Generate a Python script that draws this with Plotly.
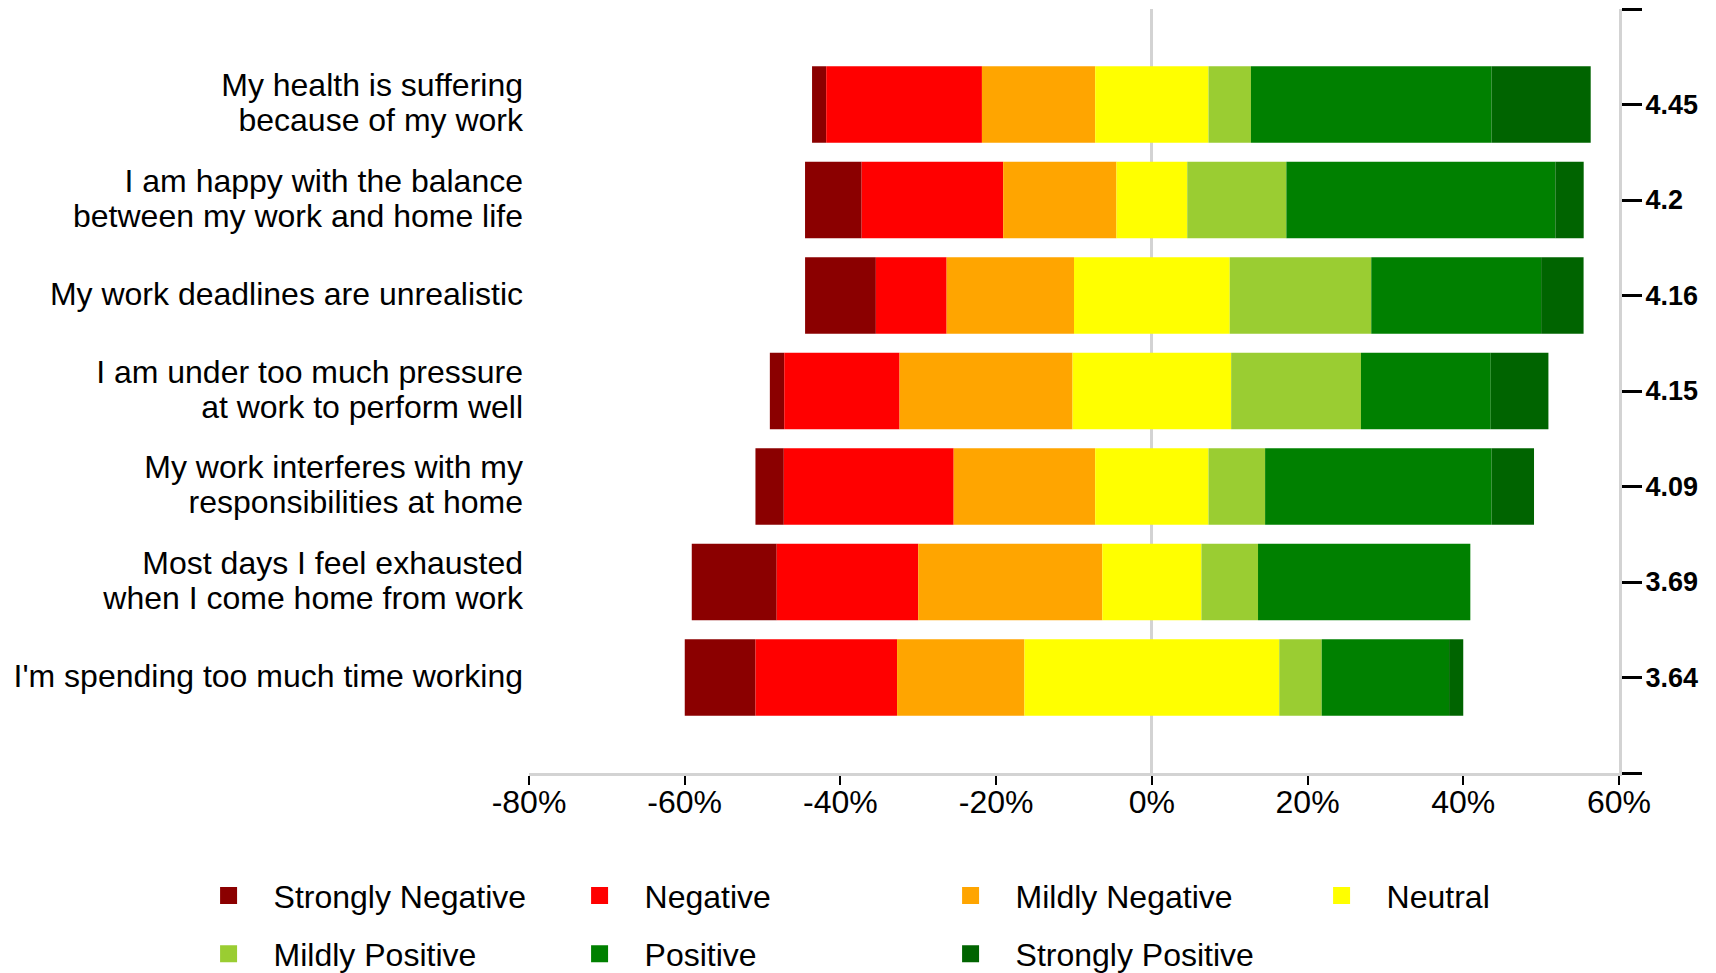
import numpy as np
import plotly.graph_objects as go

categories = [
    "My health is suffering<br>because of my work",
    "I am happy with the balance<br>between my work and home life",
    "My work deadlines are unrealistic",
    "I am under too much pressure<br>at work to perform well",
    "My work interferes with my<br>responsibilities at home",
    "Most days I feel exhausted<br>when I come home from work",
    "I'm spending too much time working",
]
mean_scores = ["4.45", "4.2", "4.16", "4.15", "4.09", "3.69", "3.64"]

strongly_negative = [1.82, 7.27, 9.09, 1.85, 3.64, 10.91, 9.09]
negative = [20.00, 18.18, 9.09, 14.81, 21.82, 18.18, 18.18]
mildly_negative = [14.55, 14.55, 16.36, 22.22, 18.18, 23.64, 16.36]
neutral = [14.55, 9.09, 20.00, 20.37, 14.55, 12.73, 32.73]
mildly_positive = [5.45, 12.73, 18.18, 16.67, 7.27, 7.27, 5.45]
positive = [30.91, 34.55, 21.82, 16.67, 29.09, 27.27, 16.36]
strongly_positive = [12.73, 3.64, 5.45, 7.41, 5.45, 0.00, 1.82]

series_names = ["Strongly Negative", "Negative", "Mildly Negative", "Neutral",
                "Mildly Positive", "Positive", "Strongly Positive"]
series_values = [strongly_negative, negative, mildly_negative, neutral,
                 mildly_positive, positive, strongly_positive]
colors = ["#8B0000", "#FF0000", "#FFA500", "#FFFF00", "#9ACD32", "#008000", "#006400"]
legend_rows = ["legend", "legend", "legend", "legend", "legend2", "legend2", "legend2"]

x_tickvals = [-80, -60, -40, -20, 0, 20, 40, 60]
x_ticktext = ["-80%", "-60%", "-40%", "-20%", "0%", "20%", "40%", "60%"]

FONT = "Liberation Sans, Arial, sans-serif"
FS = 32
LABEL_LINE_FS = 27  # base size that sets the (tighter) line spacing of the category labels

vals = np.array(series_values, dtype=float)
left_start = -(vals[0] + vals[1] + vals[2] + vals[3] / 2.0)
bases = left_start + np.vstack([np.zeros(vals.shape[1]), np.cumsum(vals, axis=0)[:-1]])

fig = go.Figure()
for name, v, b, c in zip(series_names, vals, bases, colors):
    fig.add_trace(go.Bar(
        y=categories, x=v, base=b, orientation="h", name=name,
        marker=dict(color=c, line=dict(width=0)), width=0.8,
        hoverinfo="skip", showlegend=False,
    ))

# legend entries
for name, c, lg in zip(series_names, colors, legend_rows):
    fig.add_trace(go.Bar(
        y=[None], x=[None], orientation="h", name=name, legend=lg,
        marker=dict(color=c, line=dict(width=5, color=c)),
        hoverinfo="skip", showlegend=True,
    ))

# carrier for right-hand axis (mean scores)
n = len(categories)
fig.add_trace(go.Scatter(
    x=left_start, y=list(range(n)), yaxis="y2", mode="markers",
    marker=dict(opacity=0), hoverinfo="skip", showlegend=False,
))

label_text = [
    "<br>".join('<span style="font-size:%dpx">%s</span>' % (FS, ln) for ln in cat.split("<br>"))
    for cat in categories
]

legend_common = dict(
    orientation="h", x=-0.3169, xanchor="left", yanchor="top",
    font=dict(family=FONT, size=FS, color="black"),
    entrywidth=276, entrywidthmode="pixels", itemwidth=80,
    traceorder="normal", itemclick=False, itemdoubleclick=False,
    bgcolor="rgba(0,0,0,0)",
)

fig.update_layout(
    width=1708, height=965,
    barmode="overlay",
    plot_bgcolor="white", paper_bgcolor="white",
    margin=dict(l=521, r=97, t=1, b=200, pad=0, autoexpand=False),
    font=dict(family=FONT, size=FS, color="black"),
    showlegend=True,
    legend=dict(legend_common, y=-0.1247),
    legend2=dict(legend_common, y=-0.2007),
    xaxis=dict(
        range=[-80, 60], tickvals=x_tickvals, ticktext=x_ticktext,
        showgrid=False, zeroline=True, zerolinecolor="#D3D3D3", zerolinewidth=2.5,
        showline=True, linecolor="#D3D3D3", linewidth=3,
        ticks="outside", ticklen=9, tickwidth=2, tickcolor="black",
        ticklabelstandoff=-10,
        tickfont=dict(family=FONT, size=FS, color="black"),
        fixedrange=True,
    ),
    yaxis=dict(
        type="category", categoryorder="array", categoryarray=categories,
        range=[n, -1], showgrid=False, zeroline=False, showline=False,
        tickvals=categories, ticktext=label_text,
        ticks="", ticklabelstandoff=5,
        tickfont=dict(family=FONT, size=LABEL_LINE_FS, color="black"),
        fixedrange=True,
    ),
    yaxis2=dict(
        overlaying="y", side="right", anchor="x",
        range=[n, -1], tickvals=list(range(-1, n + 1)),
        ticktext=[""] + mean_scores + [""],
        showgrid=False, zeroline=False,
        showline=True, linecolor="#D3D3D3", linewidth=3,
        ticks="outside", ticklen=20, tickwidth=2.5, tickcolor="black",
        ticklabelstandoff=-2,
        tickfont=dict(family=FONT, size=27, color="black", weight="bold"),
        fixedrange=True,
    ),
)

fig.write_html("out.html")
